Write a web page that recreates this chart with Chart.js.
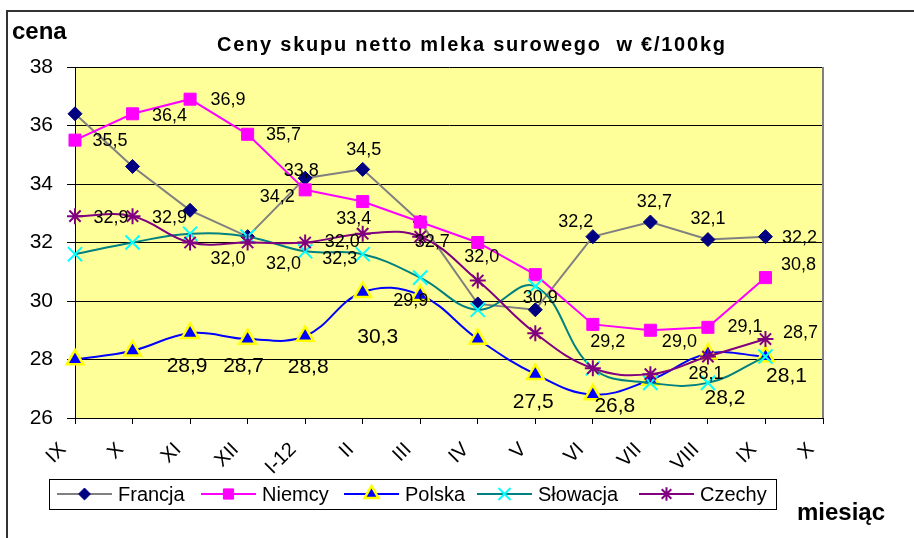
<!DOCTYPE html>
<html>
<head>
<meta charset="utf-8">
<script src="https://cdn.jsdelivr.net/npm/chart.js"></script>
<style>html,body{margin:0;padding:0;background:#fff}</style>
</head>
<body>
<canvas id="wykres" width="914" height="538"></canvas>
<script>
// Dane (cena w EUR / 100 kg)
const miesiace = ['IX', 'X', 'XI', 'XII', 'I-12', 'II', 'III', 'IV', 'V', 'VI', 'VII', 'VIII', 'IX', 'X'];
const francja = [36.4, 34.6, 33.1, 32.2, 34.2, 34.5, 32.7, 29.9, 29.7, 32.2, 32.7, 32.1, 32.2];
const niemcy = [35.5, 36.4, 36.9, 35.7, 33.8, 33.4, 32.7, 32.0, 30.9, 29.2, 29.0, 29.1, 30.8];
const polska = [28.0, 28.3, 28.9, 28.7, 28.8, 30.3, 30.2, 28.7, 27.5, 26.8, 27.3, 28.2, 28.1];
const slowacja = [31.6, 32.0, 32.3, 32.2, 31.7, 31.6, 30.8, 29.7, 30.5, 27.7, 27.2, 27.2, 28.1];
const czechy = [32.9, 32.9, 32.0, 32.0, 32.0, 32.3, 32.2, 30.7, 28.9, 27.7, 27.5, 28.1, 28.7];
const osY = [26, 28, 30, 32, 34, 36, 38];

const FONT = "'Liberation Sans', Arial, sans-serif";

// przesunięcia etykiet wartości względem punktu [dx, dy]
const etykiety = [
  { 4: [-28, 19], 5: [1, -19], 7: [-67, -3], 9: [-17, -15], 10: [4, -20], 11: [0, -21], 12: [34, 1] },
  { 0: [35, 1], 1: [37, 2], 2: [38, 1], 3: [36, 1], 4: [-4, -19], 5: [-9, 17], 6: [12, 20], 7: [4, 15],
    8: [5, 23], 9: [15, 18], 10: [29, 12], 11: [37, 0], 12: [33, -13] },
  { 2: [-3, 33], 3: [-4, 27], 4: [3, 31], 5: [15, 45], 8: [-2, 28], 9: [22, 12], 11: [17, 45], 12: [21, 20] },
  {},
  { 0: [36, 2], 1: [37, 2], 2: [38, 17], 3: [36, 22], 4: [37, 0], 5: [-23, 25], 11: [-2, 17], 12: [35, -6] }
];
const duzeEtykiety = [false, false, true, false, false];

const serie = [
  { label: 'Francja', data: francja, borderColor: '#808080', pointStyle: 'rectRot', pointRadius: 7,
    pointBackgroundColor: '#000080', pointBorderColor: '#000080', pointBorderWidth: 1, tension: 0, order: 5 },
  { label: 'Niemcy', data: niemcy, borderColor: '#ff00ff', pointStyle: 'rect', pointRadius: 8.5,
    pointBackgroundColor: '#ff00ff', pointBorderColor: '#ff00ff', pointBorderWidth: 1, tension: 0, order: 4 },
  { label: 'Polska', data: polska, borderColor: '#0000ff', pointStyle: 'triangle', pointRadius: 9.5,
    pointBackgroundColor: '#0000ff', pointBorderColor: '#ffff00', pointBorderWidth: 2.5, tension: 0.4, order: 3 },
  { label: 'Słowacja', data: slowacja, borderColor: '#008080', pointStyle: 'crossRot', pointRadius: 10,
    pointBackgroundColor: '#00ffff', pointBorderColor: '#00ffff', pointBorderWidth: 2, tension: 0.4, order: 2 },
  { label: 'Czechy', data: czechy, borderColor: '#800080', pointStyle: 'star', pointRadius: 8,
    pointBackgroundColor: '#800080', pointBorderColor: '#800080', pointBorderWidth: 2, tension: 0.4, order: 1 }
];

const formatuj = v => v.toFixed(1).replace('.', ',');

// tło, ramka, tytuły i legenda
const ozdobyPlugin = {
  id: 'ozdoby',
  beforeDraw(chart) {
    const { ctx, chartArea: a } = chart;
    ctx.save();
    ctx.fillStyle = '#fff';
    ctx.fillRect(0, 0, chart.width, chart.height);
    ctx.strokeStyle = '#333';
    ctx.lineWidth = 2;
    ctx.beginPath();
    ctx.moveTo(7, chart.height);
    ctx.lineTo(7, 11);
    ctx.lineTo(chart.width, 11);
    ctx.stroke();
    ctx.fillStyle = '#ffff99';
    ctx.fillRect(a.left, a.top, a.right - a.left, a.bottom - a.top);
    ctx.restore();
  },
  afterDraw(chart) {
    const { ctx, chartArea: a } = chart;
    ctx.save();
    ctx.strokeStyle = '#808080';
    ctx.lineWidth = 2;
    ctx.beginPath();
    ctx.moveTo(a.right, a.top);
    ctx.lineTo(a.right, a.bottom);
    ctx.stroke();

    ctx.fillStyle = '#000';
    ctx.textBaseline = 'middle';
    ctx.textAlign = 'left';
    ctx.font = 'bold 24px ' + FONT;
    ctx.fillText('cena', 12, 32);
    ctx.fillText('miesiąc', 797, 513);

    // tytuł z rozstrzelonymi literami
    const tytul = 'Ceny skupu netto mleka surowego  w €/100kg';
    ctx.font = 'bold 20px ' + FONT;
    const w = ctx.measureText(tytul).width;
    const odstep = Math.max(0, (508 - w) / (tytul.length - 1));
    let x = 217;
    for (const ch of tytul) {
      ctx.fillText(ch, x, 45);
      x += ctx.measureText(ch).width + odstep;
    }

    // legenda
    ctx.fillStyle = '#fff';
    ctx.fillRect(49, 479, 727, 30);
    ctx.strokeStyle = '#000';
    ctx.lineWidth = 1;
    ctx.strokeRect(49.5, 479.5, 727, 30);
    const startX = [57, 201, 344, 477, 639];
    ctx.font = '20px ' + FONT;
    serie.forEach((s, i) => {
      const lx = startX[i];
      const ly = 494;
      ctx.strokeStyle = s.borderColor;
      ctx.lineWidth = 2;
      ctx.beginPath();
      ctx.moveTo(lx, ly);
      ctx.lineTo(lx + 55, ly);
      ctx.stroke();
      if (Chart.helpers && Chart.helpers.drawPoint) {
        ctx.fillStyle = s.pointBackgroundColor;
        ctx.strokeStyle = s.pointBorderColor;
        ctx.lineWidth = s.pointBorderWidth;
        Chart.helpers.drawPoint(ctx, { pointStyle: s.pointStyle, radius: s.pointRadius * 0.85,
          rotation: 0, borderWidth: s.pointBorderWidth }, lx + 27.5, ly);
      }
      ctx.fillStyle = '#000';
      ctx.fillText(s.label, lx + 61, ly + 1);
    });
    ctx.restore();
  }
};

// etykiety wartości przy punktach
const etykietyPlugin = {
  id: 'etykiety',
  afterDatasetsDraw(chart) {
    const { ctx } = chart;
    ctx.save();
    ctx.fillStyle = '#000';
    ctx.textAlign = 'center';
    ctx.textBaseline = 'middle';
    serie.forEach((s, i) => {
      const meta = chart.getDatasetMeta(i);
      ctx.font = (duzeEtykiety[i] ? '21px ' : '18px ') + FONT;
      Object.entries(etykiety[i]).forEach(([idx, [dx, dy]]) => {
        const p = meta.data[idx];
        if (!p) return;
        ctx.fillText(formatuj(s.data[idx]), p.x + dx, p.y + dy);
      });
    });
    ctx.restore();
  }
};

const ctx = document.getElementById('wykres').getContext('2d');
new Chart(ctx, {
  type: 'line',
  data: {
    labels: miesiace,
    datasets: serie.map(s => Object.assign({ borderWidth: 2, fill: false, clip: false }, s))
  },
  options: {
    responsive: false,
    animation: false,
    layout: { padding: { left: 0, top: 67, right: 91, bottom: 0 } },
    plugins: { legend: { display: false }, title: { display: false }, tooltip: { enabled: false } },
    scales: {
      x: {
        offset: false,
        grid: { drawOnChartArea: false, drawTicks: true, tickLength: 6, color: '#000' },
        border: { display: true, color: '#000', width: 1 },
        ticks: {
          autoSkip: false, maxRotation: 45, minRotation: 45, color: '#000',
          font: { family: FONT, size: 20 }, padding: 14, labelOffset: -12
        },
        afterFit: s => { s.height = 120; }
      },
      y: {
        min: osY[0],
        max: osY[osY.length - 1],
        grid: { color: '#000', tickLength: 8 },
        border: { display: true, color: '#000', width: 1 },
        ticks: {
          stepSize: 2, padding: 14, color: '#000',
          font: { family: FONT, size: 21 },
          callback: v => osY.includes(v) ? String(v) : ''
        },
        afterFit: s => { s.width = 75; }
      }
    }
  },
  plugins: [ozdobyPlugin, etykietyPlugin]
});
</script>
</body>
</html>
